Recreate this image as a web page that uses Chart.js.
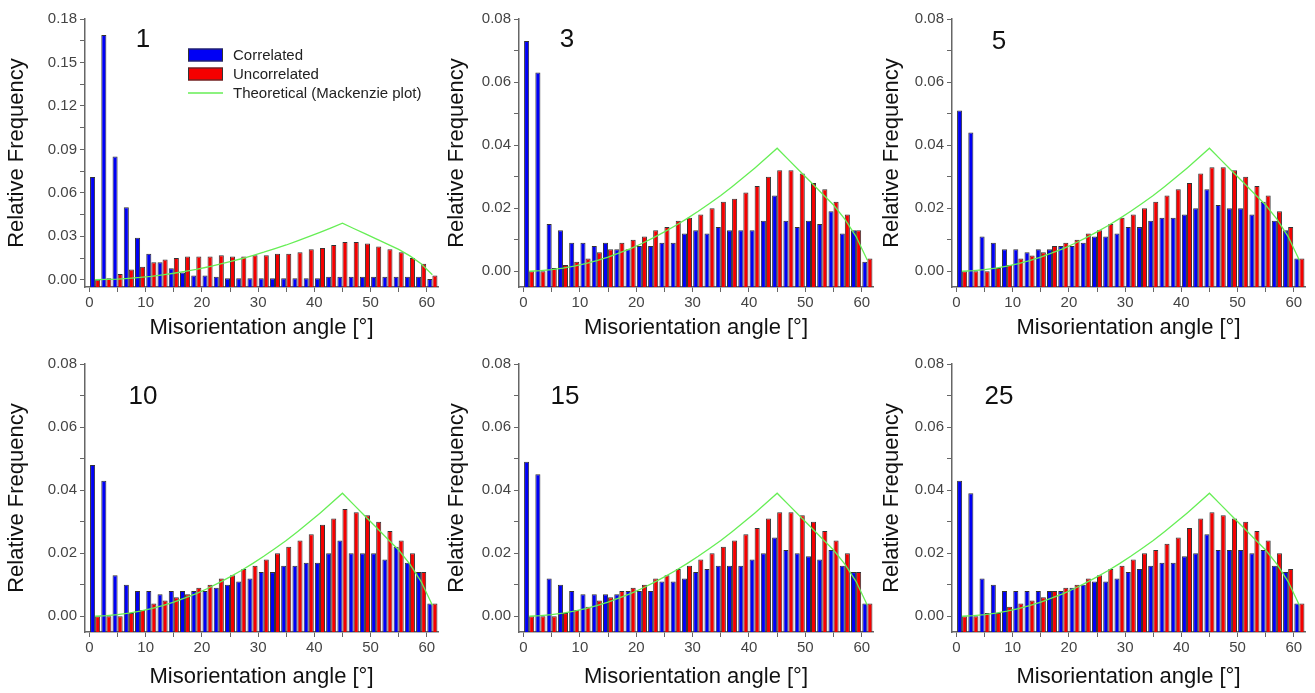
<!DOCTYPE html>
<html>
<head>
<meta charset="utf-8">
<script src="https://cdn.jsdelivr.net/npm/chart.js@4.4.1/dist/chart.umd.min.js"></script>
<style>
  body { margin: 0; background: #fff; }
  #wrap { position: relative; width: 1315px; height: 693px; overflow: hidden; }
  canvas { position: absolute; }
</style>
</head>
<body>
<div id="wrap">
  <canvas id="p1" width="440" height="345" style="left:0;top:0"></canvas>
  <canvas id="p3" width="435" height="345" style="left:440px;top:0"></canvas>
  <canvas id="p5" width="440" height="345" style="left:875px;top:0"></canvas>
  <canvas id="p10" width="440" height="348" style="left:0;top:345px"></canvas>
  <canvas id="p15" width="435" height="348" style="left:440px;top:345px"></canvas>
  <canvas id="p25" width="440" height="348" style="left:875px;top:345px"></canvas>
</div>
<script>
// --- data (2 degree bins) ---
const binCentres = [1, 3, 5, 7, 9, 11, 13, 15, 17, 19, 21, 23, 25, 27, 29, 31, 33, 35, 37, 39, 41, 43, 45, 47, 49, 51, 53, 55, 57, 59, 61];

const mackenzie = [0.0000, 0.0002, 0.0005, 0.0010, 0.0016, 0.0024, 0.0034, 0.0045, 0.0058, 0.0072, 0.0088, 0.0106, 0.0125, 0.0145, 0.0167, 0.0190,
                   0.0215, 0.0240, 0.0268, 0.0297, 0.0327, 0.0358, 0.0390, 0.0354, 0.0318, 0.0282, 0.0246, 0.0210, 0.0165, 0.0110, 0.0035];

const corr1 = [0.071, 0.169, 0.085, 0.050, 0.029, 0.018, 0.012, 0.008, 0.005, 0.003, 0.003, 0.002, 0.001, 0.001, 0.001, 0.001,
               0.001, 0.001, 0.001, 0.001, 0.001, 0.002, 0.002, 0.002, 0.002, 0.002, 0.002, 0.002, 0.002, 0.002, 0.0005];
const uncorr1 = [0.000, 0.001, 0.004, 0.007, 0.009, 0.012, 0.014, 0.015, 0.016, 0.016, 0.016, 0.017, 0.016, 0.016, 0.017, 0.017,
                 0.018, 0.018, 0.019, 0.021, 0.022, 0.024, 0.026, 0.026, 0.025, 0.023, 0.021, 0.019, 0.015, 0.011, 0.003];

const corr3 = [0.073, 0.063, 0.015, 0.013, 0.009, 0.009, 0.008, 0.009, 0.007, 0.007, 0.008, 0.008, 0.009, 0.009, 0.012, 0.013,
               0.012, 0.014, 0.013, 0.013, 0.013, 0.016, 0.024, 0.016, 0.014, 0.016, 0.015, 0.019, 0.012, 0.013, 0.003];
const uncorr3 = [0.000, 0.000, 0.001, 0.002, 0.003, 0.004, 0.006, 0.007, 0.009, 0.010, 0.011, 0.013, 0.014, 0.016, 0.017, 0.018,
                 0.020, 0.022, 0.023, 0.025, 0.027, 0.030, 0.032, 0.032, 0.031, 0.028, 0.026, 0.022, 0.018, 0.013, 0.004];

const corr5 = [0.051, 0.044, 0.011, 0.009, 0.007, 0.007, 0.006, 0.007, 0.007, 0.008, 0.008, 0.009, 0.011, 0.011, 0.012, 0.014,
               0.014, 0.016, 0.017, 0.017, 0.018, 0.020, 0.026, 0.021, 0.020, 0.020, 0.018, 0.022, 0.016, 0.013, 0.004];
const uncorr5 = [0.000, 0.000, 0.000, 0.001, 0.002, 0.004, 0.005, 0.006, 0.008, 0.009, 0.010, 0.012, 0.013, 0.015, 0.017, 0.018,
                 0.020, 0.022, 0.024, 0.026, 0.028, 0.031, 0.033, 0.033, 0.032, 0.030, 0.027, 0.024, 0.019, 0.014, 0.004];

const corr10 = [0.048, 0.043, 0.013, 0.010, 0.008, 0.008, 0.007, 0.008, 0.008, 0.008, 0.008, 0.009, 0.010, 0.011, 0.012, 0.014,
                0.014, 0.016, 0.016, 0.017, 0.017, 0.020, 0.024, 0.020, 0.020, 0.020, 0.018, 0.022, 0.017, 0.014, 0.004];
const uncorr10 = [0.000, 0.000, 0.000, 0.001, 0.002, 0.004, 0.005, 0.006, 0.007, 0.009, 0.010, 0.012, 0.013, 0.015, 0.016, 0.018,
                  0.020, 0.022, 0.024, 0.026, 0.029, 0.031, 0.034, 0.033, 0.032, 0.030, 0.027, 0.024, 0.020, 0.014, 0.004];

const corr15 = [0.049, 0.045, 0.012, 0.010, 0.008, 0.007, 0.007, 0.007, 0.007, 0.008, 0.008, 0.008, 0.011, 0.011, 0.012, 0.014,
                0.015, 0.016, 0.016, 0.016, 0.018, 0.020, 0.025, 0.021, 0.020, 0.019, 0.018, 0.021, 0.016, 0.014, 0.004];
const uncorr15 = [0.000, 0.000, 0.000, 0.001, 0.002, 0.003, 0.005, 0.006, 0.008, 0.009, 0.010, 0.012, 0.013, 0.015, 0.016, 0.018,
                  0.020, 0.022, 0.024, 0.026, 0.028, 0.031, 0.033, 0.033, 0.032, 0.030, 0.027, 0.024, 0.020, 0.014, 0.004];

const corr25 = [0.043, 0.039, 0.012, 0.010, 0.008, 0.008, 0.008, 0.008, 0.008, 0.008, 0.009, 0.010, 0.011, 0.011, 0.012, 0.014,
                0.015, 0.016, 0.017, 0.017, 0.019, 0.020, 0.026, 0.021, 0.021, 0.021, 0.020, 0.021, 0.016, 0.014, 0.004];
const uncorr25 = [0.000, 0.000, 0.001, 0.001, 0.003, 0.004, 0.005, 0.006, 0.008, 0.009, 0.010, 0.012, 0.013, 0.015, 0.016, 0.018,
                  0.020, 0.021, 0.023, 0.025, 0.028, 0.031, 0.033, 0.032, 0.031, 0.030, 0.027, 0.024, 0.020, 0.015, 0.004];

const seriesNames = ['Correlated', 'Uncorrelated', 'Theoretical (Mackenzie plot)'];
const xTickStep = 5;       // labels every 10
const yMinValue = -0.005;

// --- panel setup ---
const FONT = "'Liberation Sans', Arial, sans-serif";
const BLUE = '#0000f5';
const RED = '#f50000';
const GREEN = '#66ee55';
const AXIS = '#666';

const pairs = (ys) => binCentres.map((x, i) => ({ x: x, y: ys[i] }));

// panel label + legend, drawn on top of the chart area
const panelDecor = {
    id: 'panelDecor',
    afterDatasetsDraw(chart, args, opts) {
        const { ctx, chartArea } = chart;
        ctx.save();
        ctx.fillStyle = '#111';
        ctx.font = '26px ' + FONT;
        ctx.textAlign = 'center';
        ctx.textBaseline = 'middle';
        ctx.fillText(opts.label, chartArea.left + opts.labelDx, chartArea.top + opts.labelDy);

        if (opts.legend) {
            const lx = chartArea.left + 103, w = 35;
            const rows = [chartArea.top + 36, chartArea.top + 55, chartArea.top + 74];
            ctx.font = '15px ' + FONT;
            ctx.textAlign = 'left';
            ctx.strokeStyle = '#333';
            ctx.lineWidth = 1;
            ctx.fillStyle = BLUE;
            ctx.fillRect(lx, rows[0] - 6.5, w, 13);
            ctx.strokeRect(lx + 0.5, rows[0] - 6, w - 1, 12);
            ctx.fillStyle = RED;
            ctx.fillRect(lx, rows[1] - 6.5, w, 13);
            ctx.strokeRect(lx + 0.5, rows[1] - 6, w - 1, 12);
            ctx.strokeStyle = GREEN;
            ctx.lineWidth = 1.5;
            ctx.beginPath();
            ctx.moveTo(lx, rows[2]);
            ctx.lineTo(lx + w, rows[2]);
            ctx.stroke();
            ctx.fillStyle = '#222';
            seriesNames.forEach((name, i) => ctx.fillText(name, lx + w + 10, rows[i] + 1));
        }
        ctx.restore();
    }
};

function makePanel(id, label, corr, uncorr, yMax, yStep, yLabelStep, yWidth, padTop, padRight, xHeight, titlePad, labelDx, labelDy, legend) {
    new Chart(document.getElementById(id), {
        type: 'bar',
        data: {
            datasets: [
                {
                    type: 'line',
                    label: seriesNames[2],
                    data: pairs(mackenzie),
                    borderColor: GREEN,
                    borderWidth: 1.3,
                    pointRadius: 0,
                    tension: 0,
                    order: 0
                },
                {
                    label: seriesNames[0],
                    data: pairs(corr),
                    backgroundColor: BLUE,
                    borderColor: '#333',
                    borderWidth: 1,
                    base: yMinValue,
                    order: 1
                },
                {
                    label: seriesNames[1],
                    data: pairs(uncorr),
                    backgroundColor: RED,
                    borderColor: '#333',
                    borderWidth: 1,
                    base: yMinValue,
                    order: 1
                }
            ]
        },
        options: {
            responsive: false,
            animation: false,
            devicePixelRatio: 1,
            layout: { padding: { left: 0, top: padTop, right: padRight, bottom: 0 } },
            datasets: { bar: { categoryPercentage: 0.9, barPercentage: 1.0, grouped: true } },
            plugins: {
                legend: { display: false },
                tooltip: { enabled: false },
                panelDecor: { label: label, labelDx: labelDx, labelDy: labelDy, legend: legend }
            },
            scales: {
                x: {
                    type: 'linear',
                    offset: false,
                    min: -0.8,
                    max: 62,
                    afterFit: (s) => { s.height = xHeight; },
                    border: { display: true, color: AXIS, width: 1.5 },
                    grid: { offset: false, drawOnChartArea: false, drawTicks: true, tickLength: 5, color: AXIS },
                    ticks: {
                        stepSize: xTickStep,
                        includeBounds: false,
                        autoSkip: false,
                        maxRotation: 0,
                        padding: 2,
                        color: '#444',
                        font: { family: FONT, size: 15 },
                        callback: (v) => (v % 10 === 0 ? String(v) : '')
                    },
                    title: {
                        display: true,
                        text: 'Misorientation angle [°]',
                        color: '#111',
                        font: { family: FONT, size: 22 },
                        padding: { top: 0, bottom: titlePad }
                    }
                },
                y: {
                    type: 'linear',
                    min: yMinValue,
                    max: yMax,
                    afterFit: (s) => { s.width = yWidth; },
                    border: { display: true, color: AXIS, width: 1.5 },
                    grid: { drawOnChartArea: false, drawTicks: true, tickLength: 5, color: AXIS },
                    ticks: {
                        stepSize: yStep,
                        includeBounds: false,
                        autoSkip: false,
                        padding: 3,
                        color: '#444',
                        font: { family: FONT, size: 15 },
                        callback: (v) => (Math.round(v * 1000) % Math.round(yLabelStep * 1000) === 0 ? v.toFixed(2) : '')
                    },
                    title: {
                        display: true,
                        text: 'Relative Frequency',
                        color: '#111',
                        font: { family: FONT, size: 22 },
                        padding: { top: 4, bottom: 0 }
                    }
                }
            }
        },
        plugins: [panelDecor]
    });
}

makePanel('p1', '1', corr1, uncorr1, 0.18, 0.015, 0.03, 85, 19, 2, 58, 4, 58, 21, true);
makePanel('p3', '3', corr3, uncorr3, 0.08, 0.01, 0.02, 79, 19, 2, 58, 4, 48, 21, false);
makePanel('p5', '5', corr5, uncorr5, 0.08, 0.01, 0.02, 77, 19, 10, 58, 4, 47, 23, false);
makePanel('p10', '10', corr10, uncorr10, 0.08, 0.01, 0.02, 85, 19, 2, 61, 3, 58, 33, false);
makePanel('p15', '15', corr15, uncorr15, 0.08, 0.01, 0.02, 79, 19, 2, 61, 3, 46, 33, false);
makePanel('p25', '25', corr25, uncorr25, 0.08, 0.01, 0.02, 77, 19, 10, 61, 3, 47, 33, false);
</script>
</body>
</html>
